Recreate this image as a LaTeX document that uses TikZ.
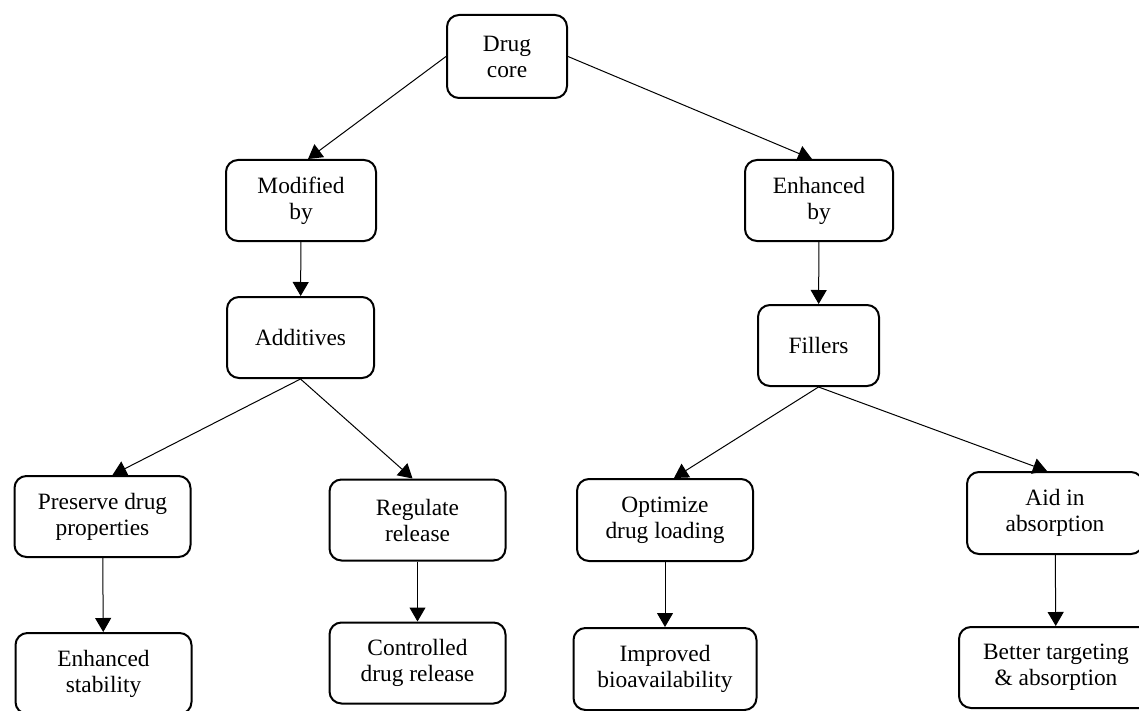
\documentclass[tikz,border=0pt]{standalone}
\usepackage{fontspec}
\setmainfont{Liberation Serif}
\usetikzlibrary{arrows.meta}
\tikzset{every picture/.style={line width=0.5pt}}
\tikzset{
    flowbox/.style={draw, line width=1pt, rounded corners=6pt, fill=white, align=center,
        inner sep=2pt, minimum width=88pt, minimum height=40.5pt,
        font=\fontsize{11.7}{13}\selectfont},
    flowarrow/.style={-{Triangle[length=7pt, width=8pt]}}
}

\begin{document}
\begin{tikzpicture}[x=0.5pt, y=-0.5pt]
            \useasboundingbox (0, 0) rectangle (1139, 711);
            \node[flowbox, minimum width=60pt, minimum height=41.5pt] (core) at (507, 56.5) {Drug\\core};
            \node[flowbox, minimum width=75pt] (modby) at (301, 200.5) {Modified\\by};
            \node[flowbox, minimum width=74pt] (enhby) at (819, 200.5) {Enhanced\\by};
            \node[flowbox, minimum width=73.5pt] (additives) at (300.5, 337.5) {Additives};
            \node[flowbox, minimum width=60.5pt] (fillers) at (818.5, 345.5) {Fillers};
            % second level: what additives and fillers do
            \node[flowbox] (preserve) at (102.5, 516.5) {Preserve drug\\properties};
            \node[flowbox] (regulate) at (417.5, 520) {Regulate\\release};
            \node[flowbox, minimum height=41pt] (optimize) at (665, 520) {Optimize\\drug loading};
            \node[flowbox, minimum height=41pt] (aid) at (1055, 513) {Aid in\\absorption};
            % outcomes
            \node[flowbox] (stability) at (103.5, 673.5) {Enhanced\\stability};
            \node[flowbox] (controlled) at (417.5, 663) {Controlled\\drug release};
            \node[flowbox, minimum width=91.5pt, minimum height=41pt] (bioavail) at (665, 669) {Improved\\bioavailability};
            \node[flowbox, minimum width=97pt] (targeting) at (1056, 667.5) {Better targeting\\\& absorption};
            \draw[flowarrow] (core.west) -- ([xshift=3.5pt]modby.north);
            \draw[flowarrow] (core.east) -- ([xshift=-3.5pt]enhby.north);
            \draw[flowarrow] (modby) -- (additives);
            \draw[flowarrow] (enhby) -- (fillers);
            \draw[flowarrow] (additives.south) -- ([xshift=5pt]preserve.north);
            \draw[flowarrow] (additives.south) -- ([xshift=-2.5pt]regulate.north);
            \draw[flowarrow] (fillers.south) -- ([xshift=4.5pt]optimize.north);
            \draw[flowarrow] (fillers.south) -- ([xshift=-4pt]aid.north);
            \draw[flowarrow] (preserve) -- (stability);
            \draw[flowarrow] (regulate) -- (controlled);
            \draw[flowarrow] (optimize) -- (bioavail);
            \draw[flowarrow] (aid) -- (targeting);
        \end{tikzpicture}
\end{document}
